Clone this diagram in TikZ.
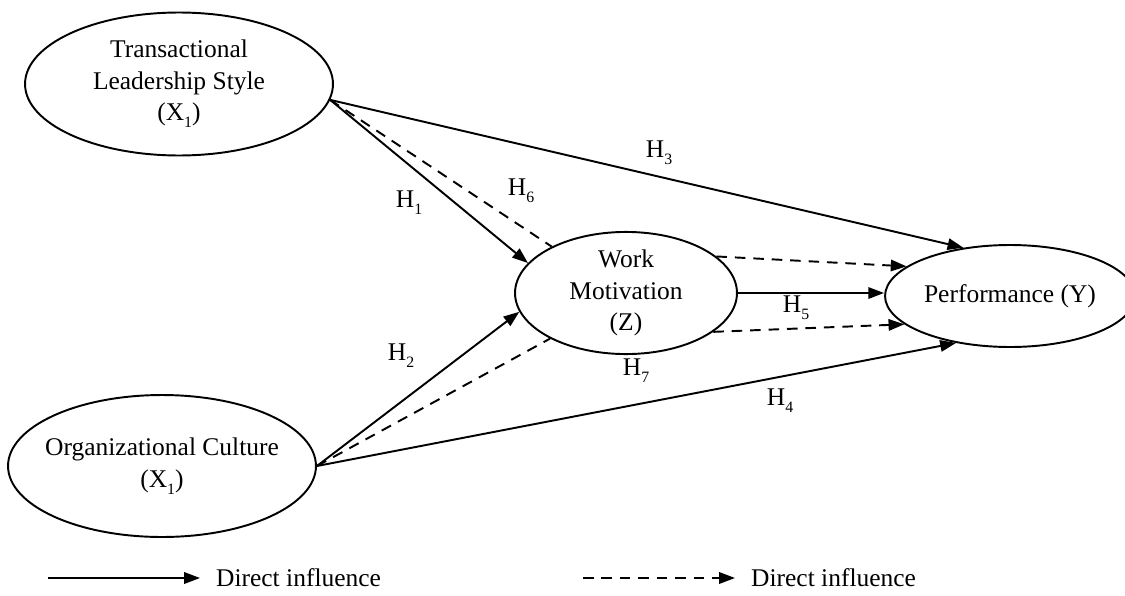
\documentclass[tikz,border=0pt]{standalone}
\usepackage{fontspec}
\setmainfont{Liberation Serif}
\usepackage{tikz}
\usetikzlibrary{shapes.geometric, arrows.meta, positioning}
\newcommand{\lowsub}[1]{\raisebox{-0.6ex}{\fontsize{9}{9}\selectfont #1}}

\begin{document}
\begin{tikzpicture}[x=0.02cm, y=-0.02cm,
    latent/.style={ellipse, draw=black, line width=1.1pt, inner sep=0pt, align=center, font=\fontsize{14.5}{18}\selectfont},
    direct/.style={line width=1.1pt, -{Triangle[length=9pt,width=6.5pt]}},
    indirect/.style={line width=1.1pt, dash pattern=on 6pt off 4.5pt},
    indirectarrow/.style={indirect, -{Triangle[length=9pt,width=6.5pt]}},
    hlabel/.style={font=\fontsize{14.5}{18}\selectfont, inner sep=1pt}]

    \useasboundingbox (0,0) rectangle (1125,595);

    %creates the four variables
    \node (tls) [latent, minimum width=6.16cm, minimum height=2.86cm] at (179,84) {Transactional\\Leadership Style\\(X\lowsub{1})};%draws X1
    \node (oc) [latent, minimum width=6.16cm, minimum height=2.84cm] at (162,466) {\makebox[0pt]{Organizational Culture}\\(X\lowsub{1})};%draws X2
    \node (wm) [latent, minimum width=4.44cm, minimum height=2.36cm] at (626,293) {Work\\Motivation\\(Z)};%draws Z
    \node (perf) [latent, minimum width=5.0cm, minimum height=2.04cm] at (1010,296) {Performance (Y)};%draws Y

    %draws direct paths
    \draw [direct] (tls.-6) to (wm.163);%H1
    \draw [direct] (oc.east) to (wm.190);%H2
    \draw [direct] (tls.-6) to (perf.134);%H3
    \draw [direct] (oc.east) to (perf.221);%H4
    \draw [direct] (wm.east) to (wm.east -| perf.west);%H5

    %draws mediated paths
    \draw [indirect] (tls.-6) to (wm.148);%H6
    \draw [indirect] (oc.east) to (wm.211);%H7
    \draw [indirectarrow] (wm.22) to (perf.164);
    \draw [indirectarrow] (wm.-24) to (perf.195);

    %labels the hypotheses
    \node (h1) [hlabel] at (409,203) {H\lowsub{1}};
    \node (h2) [hlabel] at (401,356) {H\lowsub{2}};
    \node (h3) [hlabel] at (659,153) {H\lowsub{3}};
    \node (h4) [hlabel] at (780,401) {H\lowsub{4}};
    \node (h5) [hlabel] at (796,308) {H\lowsub{5}};
    \node (h6) [hlabel] at (521,191) {H\lowsub{6}};
    \node (h7) [hlabel] at (636,371) {H\lowsub{7}};

    %draws the legend
    \coordinate (ssolid) at (48,578);
    \node (dsolid) [hlabel, inner xsep=9pt, anchor=west] at (200,578) {Direct influence};
    \draw [direct] (ssolid) to (dsolid);
    \coordinate (sdash) at (583,578);
    \node (ddash) [hlabel, inner xsep=9pt, anchor=west] at (735,578) {Direct influence};
    \draw [indirectarrow] (sdash) to (ddash);
\end{tikzpicture}
\end{document}
